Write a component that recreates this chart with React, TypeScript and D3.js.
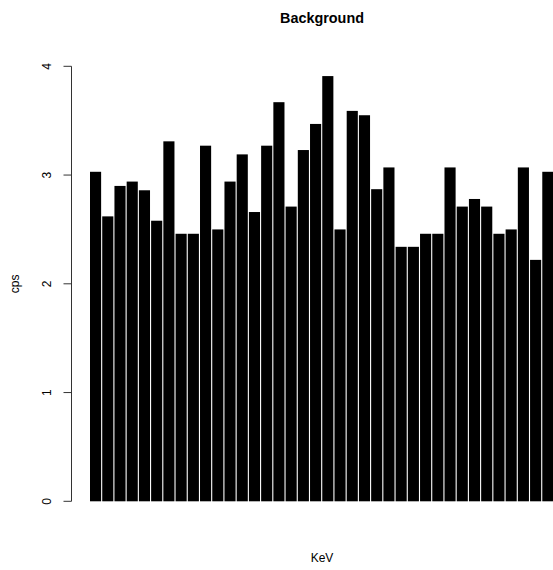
import React from "react";
import * as d3 from "d3";

const title = "Background";
const xLabel = "KeV";
const yLabel = "cps";
const yTicks = [0, 1, 2, 3, 4];
const cps = [
  3.03, 2.62, 2.9, 2.94, 2.86, 2.58, 3.31, 2.46, 2.46, 3.27,
  2.5, 2.94, 3.19, 2.66, 3.27, 3.67, 2.71, 3.23, 3.47, 3.91,
  2.5, 3.59, 3.55, 2.87, 3.07, 2.34, 2.34, 2.46, 2.46, 3.07,
  2.71, 2.78, 2.71, 2.46, 2.5, 3.07, 2.22, 3.03,
];

export default function App() {
  const W = 553;
  const H = 570;
  const x = d3
    .scaleBand<number>()
    .domain(cps.map((_, i) => i))
    .range([90, 553.4])
    .paddingInner(0.09)
    .paddingOuter(0);
  const y = d3.scaleLinear().domain([0, 4]).range([501.3, 66.3]);
  const font = "Liberation Sans, Arial, Helvetica, sans-serif";
  const axisX = 71.5;
  return (
    <svg
      width={W}
      height={H}
      style={{ position: "absolute", left: 0, top: 0 }}
      fontFamily={font}
    >
      <rect width={W} height={H} fill="white" />
      {cps.map((v, i) => (
        <rect
          key={i}
          x={x(i)}
          y={y(v)}
          width={x.bandwidth()}
          height={y(0) - y(v)}
          fill="black"
        />
      ))}
      <line x1={axisX} x2={axisX} y1={y(0)} y2={y(4)} stroke="#333" strokeWidth={1} />
      {yTicks.map((t) => (
        <g key={t}>
          <line x1={axisX - 8} x2={axisX} y1={y(t)} y2={y(t)} stroke="#333" strokeWidth={1} />
          <text
            transform={`translate(${47},${y(t)}) rotate(-90)`}
            textAnchor="middle"
            dominantBaseline="central"
            fontSize={12}
          >
            {t}
          </text>
        </g>
      ))}
      <text x={322} y={23} textAnchor="middle" fontSize={14.4} fontWeight="bold">
        {title}
      </text>
      <text x={322} y={562} textAnchor="middle" fontSize={12}>
        {xLabel}
      </text>
      <text
        transform={`translate(${19},${283.8}) rotate(-90)`}
        textAnchor="middle"
        fontSize={12}
      >
        {yLabel}
      </text>
    </svg>
  );
}
